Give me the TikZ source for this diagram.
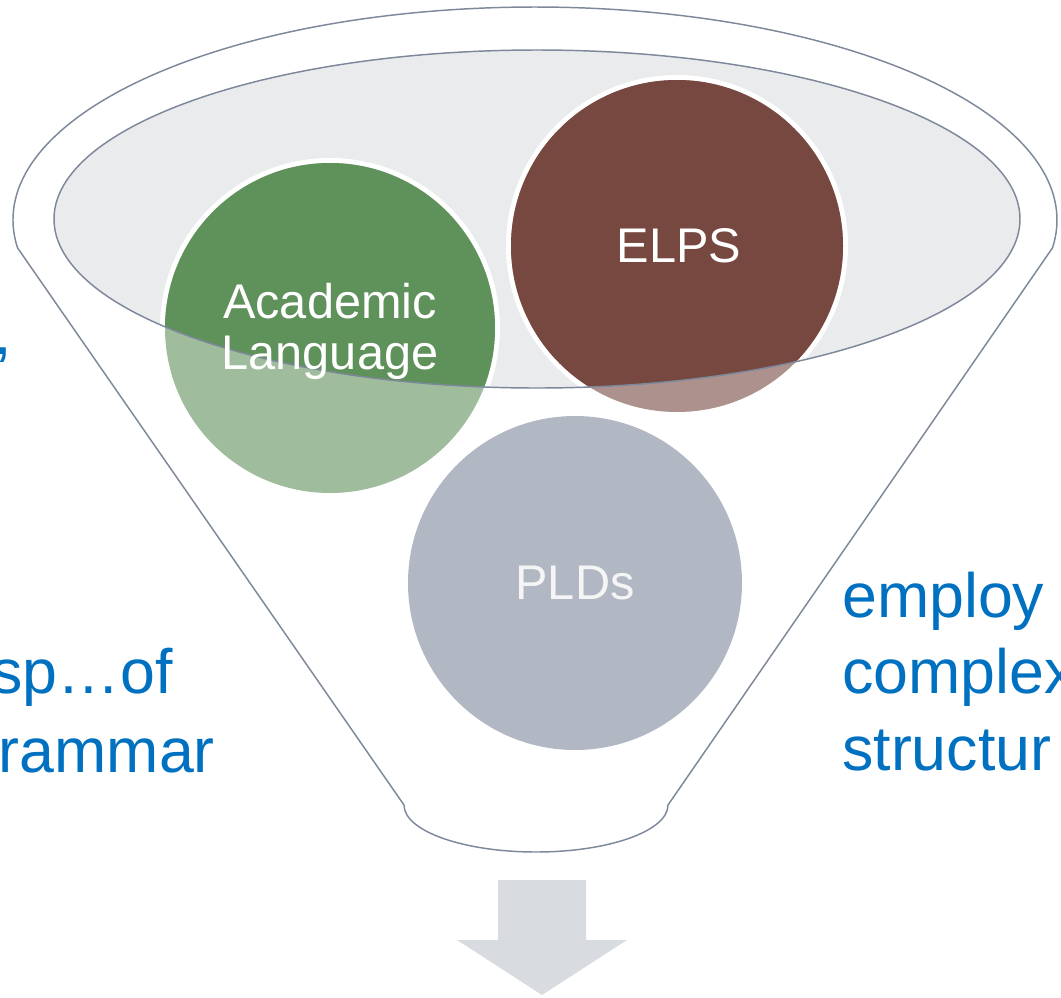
\documentclass[tikz,border=0pt]{standalone}
\usepackage{fontspec}
\setmainfont{Liberation Sans}
\begin{document}
\definecolor{rimline}{HTML}{7D889B}
\definecolor{rimfill}{HTML}{E9EBED}
\definecolor{acadgreen}{HTML}{5F915A}
\definecolor{elpsbrown}{HTML}{774840}
\definecolor{pldgray}{HTML}{B1B8C3}
\definecolor{notesblue}{HTML}{0070C0}
\definecolor{flowgray}{HTML}{D8DBE0}
\begin{tikzpicture}[x=0.75pt,y=-0.75pt,
  rim/.style={draw=rimline,line width=1.1pt},
  bubbletext/.style={text=white,font=\fontsize{36.5}{38.3}\selectfont,inner sep=0pt},
  notes/.style={text=notesblue,font=\fontsize{47}{56}\selectfont,inner sep=0pt}]
\useasboundingbox (0,0) rectangle (1061,997);
\clip (0,0) rectangle (1061,997);

% funnel body: upper rim arc, sides and rounded spout
\draw[rim,fill=white] (17.5,247.8)
  arc[start angle=172.5,end angle=367.5,x radius=522,y radius=213]
  -- (668,805)
  arc[start angle=0,end angle=180,x radius=132,y radius=47]
  -- cycle;

% inner opening of the funnel
\fill[rimfill] (537,219) ellipse[x radius=483,y radius=169];

% bubbles: white halo, faded part outside the opening
\foreach \cx/\cy/\r/\c in {330/328/165/acadgreen,677/246/166/elpsbrown}{
  \fill[white] (\cx,\cy) circle[radius=\r+5];
  \fill[\c,opacity=0.6] (\cx,\cy) circle[radius=\r];
}
\fill[white] (575,583) circle[radius=172];
\fill[pldgray] (575,583) circle[radius=167];

% full-colour part inside the opening
\begin{scope}
  \clip (537,219) ellipse[x radius=483,y radius=169];
  \fill[acadgreen] (330,328) circle[radius=165];
  \fill[elpsbrown] (677,246) circle[radius=166];
\end{scope}

% rim of the opening on top
\draw[rim] (537,219) ellipse[x radius=483,y radius=169];

% bubble labels
\node[bubbletext,align=center] (acad) at (330,331) {Academic\\Language};
\node[bubbletext,anchor=base] (elps) at (679,262) {ELPS};
\node[bubbletext,anchor=base,text=white!96!black] (plds) at (575,599) {PLDs};

% side notes
\node[notes,anchor=base east] (lcomma) at (12,354) {,};
\node[notes,anchor=base east] (lnote1) at (173,693) {sp…of};
\node[notes,anchor=base east] (lnote2) at (215,772) {rammar};
\node[notes,anchor=base west] (rnote1) at (842,617) {employ};
\node[notes,anchor=base west] (rnote2) at (842,693) {complex};
\node[notes,anchor=base west] (rnote3) at (842,770) {structur};

% outflow arrow
\fill[flowgray] (498,880) -- (586,880) -- (586,940) -- (627,940)
  -- (542,995) -- (457,940) -- (498,940) -- cycle;
\end{tikzpicture}
\end{document}
